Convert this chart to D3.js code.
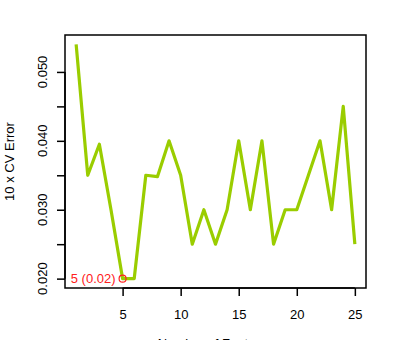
<!DOCTYPE html>
<html>
<head>
<meta charset="utf-8">
<script src="https://cdn.jsdelivr.net/npm/d3@7"></script>
<style>
  body { margin: 0; background: #fff; }
  svg { display: block; font-family: "Liberation Sans", Arial, sans-serif; }
</style>
</head>
<body>
<svg id="chart" width="400" height="340"></svg>
<script>
const features = d3.range(1, 26);
const cvError = [0.054, 0.035, 0.0395, 0.030, 0.020, 0.020, 0.035, 0.0348, 0.040, 0.035,
  0.025, 0.030, 0.025, 0.030, 0.040, 0.030, 0.040, 0.025, 0.030, 0.030,
  0.035, 0.040, 0.030, 0.045, 0.025];
const xTicks = [5, 10, 15, 20, 25];
const yTicks = [0.020, 0.025, 0.030, 0.035, 0.040, 0.045, 0.050];
const yLabels = [0.020, 0.030, 0.040, 0.050];
const best = { n: 5, err: 0.020, label: "5 (0.02)" };

const size = { width: 400, height: 340 };
const margin = { top: 35, right: 34, bottom: 52, left: 65 };
const svg = d3.select("#chart");

const data = features.map((f, i) => ({ f, e: cvError[i] }));

// R style axes: 4% padding on each side of data range
const xExt = d3.extent(features);
const xPad = (xExt[1] - xExt[0]) * 0.04;
const x = d3.scaleLinear()
  .domain([xExt[0] - xPad, xExt[1] + xPad])
  .range([margin.left, size.width - margin.right]);

const yExt = d3.extent(cvError);
const yPad = (yExt[1] - yExt[0]) * 0.04;
const y = d3.scaleLinear()
  .domain([yExt[0] - yPad, yExt[1] + yPad])
  .range([size.height - margin.bottom, margin.top]);

const bottom = size.height - margin.bottom;

// frame
svg.append("rect")
  .attr("x", margin.left)
  .attr("y", margin.top)
  .attr("width", size.width - margin.left - margin.right)
  .attr("height", bottom - margin.top)
  .attr("fill", "none")
  .attr("stroke", "#000")
  .attr("stroke-width", 1.5);

// x axis
const xAxis = svg.append("g")
  .attr("transform", `translate(0,${ bottom })`)
  .call(d3.axisBottom(x).tickValues(xTicks).tickSize(8).tickPadding(14).tickFormat(d3.format("d")));
xAxis.select(".domain")
  .attr("d", `M${ x(xTicks[0]) },0H${ x(xTicks[xTicks.length - 1]) }`)
  .attr("stroke-width", 1.5);
xAxis.selectAll(".tick line").attr("stroke-width", 1.5);
xAxis.selectAll("text").attr("font-size", 13).attr("fill", "#000")
  .attr("font-family", "Liberation Sans, Arial, sans-serif");

// y axis
const yAxis = svg.append("g")
  .attr("transform", `translate(${ margin.left },0)`)
  .call(d3.axisLeft(y).tickValues(yTicks).tickSize(8).tickFormat(""));
yAxis.select(".domain")
  .attr("d", `M0,${ y(yTicks[0]) }V${ y(yTicks[yTicks.length - 1]) }`)
  .attr("stroke-width", 1.5);
yAxis.selectAll(".tick line").attr("stroke-width", 1.5);

svg.append("g").selectAll("text")
  .data(yLabels)
  .join("text")
  .attr("transform", d => `translate(${ margin.left - 18 },${ y(d) }) rotate(-90)`)
  .attr("text-anchor", "middle")
  .attr("font-size", 13)
  .text(d3.format(".3f"));

// axis titles
svg.append("text")
  .attr("transform", `translate(14,${ (margin.top + bottom) / 2 }) rotate(-90)`)
  .attr("text-anchor", "middle")
  .attr("font-size", 13)
  .text("10 x CV Error");

svg.append("text")
  .attr("x", (margin.left + size.width - margin.right) / 2)
  .attr("y", 347.5)
  .attr("text-anchor", "middle")
  .attr("font-size", 13)
  .text("Number of Features");

// the line
const line = d3.line().x(d => x(d.f)).y(d => y(d.e));
svg.append("path")
  .datum(data)
  .attr("d", line)
  .attr("fill", "none")
  .attr("stroke", "#9acd00")
  .attr("stroke-width", 3.2)
  .attr("stroke-linejoin", "round");

// best point
svg.append("circle")
  .attr("cx", x(best.n))
  .attr("cy", y(best.err))
  .attr("r", 3.5)
  .attr("fill", "none")
  .attr("stroke", "#ff2020")
  .attr("stroke-width", 1.2);

svg.append("text")
  .attr("x", x(best.n) - 7)
  .attr("y", y(best.err) + 4.5)
  .attr("text-anchor", "end")
  .attr("font-size", 13)
  .attr("fill", "#ff2020")
  .text(best.label);
</script>
</body>
</html>
